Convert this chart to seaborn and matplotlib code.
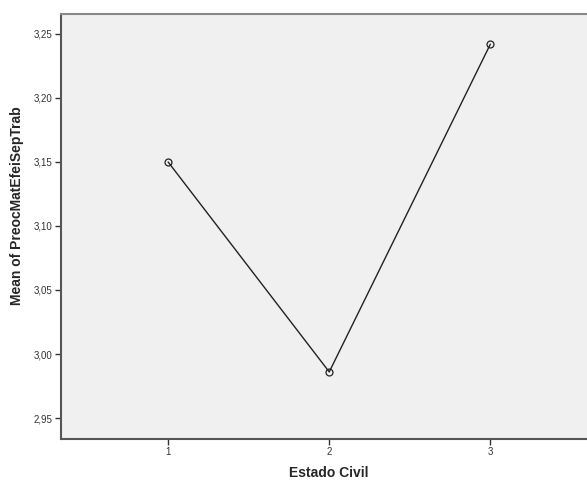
import matplotlib
matplotlib.use("Agg")
import matplotlib.pyplot as plt
import seaborn as sns
import pandas as pd
from matplotlib.ticker import FuncFormatter

estado_civil = [1, 2, 3]
means = [3.150, 2.986, 3.242]
y_ticks = [2.95, 3.00, 3.05, 3.10, 3.15, 3.20, 3.25]

df = pd.DataFrame({"Estado Civil": estado_civil, "Mean": means})

sns.set_style("white")
plt.rcParams['font.family'] = ['Liberation Sans', 'DejaVu Sans']

fig = plt.figure(figsize=(5.87, 4.8), dpi=100)
ax = fig.add_axes([61/587, 1 - 439/480, 1 - 61/587, (439 - 14)/480])
ax.set_facecolor("#F0F0F0")

sns.lineplot(data=df, x="Estado Civil", y="Mean", ax=ax, color="#222222",
             linewidth=1.0, marker="o", markersize=5, markerfacecolor="none",
             markeredgecolor="#222222", markeredgewidth=0.9)

ax.set_xlim(0.335, 3.60)
ax.set_ylim(2.9336, 3.2656)
ax.set_xticks(estado_civil)
ax.set_xticklabels([str(v) for v in estado_civil])
ax.set_yticks(y_ticks)
ax.yaxis.set_major_formatter(FuncFormatter(lambda v, p: f"{v:.2f}".replace(".", ",")))
ax.tick_params(axis="both", labelsize=7, length=4, width=1, color="#333333",
               labelcolor="#333333", direction="out", pad=2)
ax.tick_params(left=True, bottom=True)

for s in ["left", "bottom"]:
    ax.spines[s].set_color("#555555")
    ax.spines[s].set_linewidth(1.5)
ax.spines["top"].set_color("#888888")
ax.spines["top"].set_linewidth(1.5)
ax.spines["right"].set_visible(False)

ax.set_xlabel("Estado Civil", fontsize=10, fontweight="bold")
ax.set_ylabel("Mean of PreocMatEfeiSepTrab", fontsize=10, fontweight="bold")
ax.xaxis.set_label_coords((329 - 61) / 526, (439 - 466) / 425)
ax.yaxis.set_label_coords((24 - 61) / 526, (439 - 206) / 425)

fig.savefig("out.png", dpi=100)
